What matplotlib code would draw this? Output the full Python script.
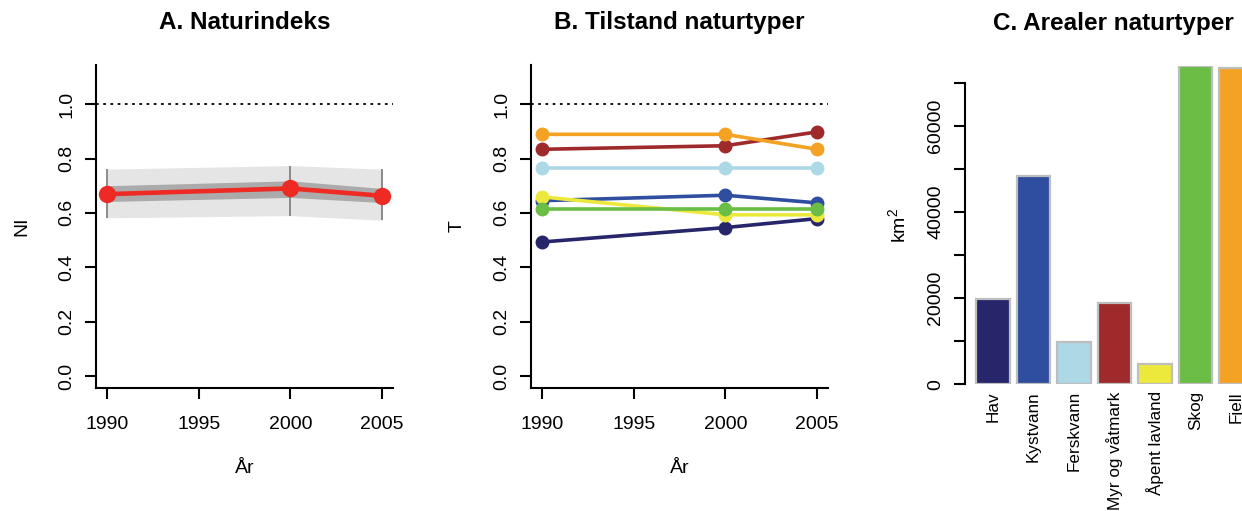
import matplotlib
matplotlib.use("Agg")
from matplotlib import pyplot as plt

plt.rcParams["font.family"] = ["Liberation Sans", "DejaVu Sans"]
plt.rcParams["mathtext.fontset"] = "custom"
plt.rcParams["mathtext.rm"] = "Liberation Sans"
plt.rcParams["mathtext.default"] = "regular"

# ---- data ----
years = [1990, 2000, 2005]
year_ticks = [1990, 1995, 2000, 2005]

ni = [0.669, 0.690, 0.663]
ni_lo50 = [0.642, 0.657, 0.638]
ni_hi50 = [0.700, 0.718, 0.690]
ni_lo95 = [0.582, 0.590, 0.573]
ni_hi95 = [0.761, 0.774, 0.761]

naturtyper = ["Hav", "Kystvann", "Ferskvann", "Myr og våtmark",
              "Åpent lavland", "Skog", "Fjell"]
farger = ["#27266B", "#2F4E9F", "#ADD8E6", "#9F2A2B",
          "#EDE93C", "#6ABD45", "#F4A223"]
tilstand = {
    "Hav": [0.493, 0.546, 0.579],
    "Kystvann": [0.645, 0.665, 0.637],
    "Ferskvann": [0.767, 0.767, 0.767],
    "Myr og våtmark": [0.834, 0.847, 0.898],
    "Åpent lavland": [0.659, 0.593, 0.593],
    "Skog": [0.616, 0.616, 0.616],
    "Fjell": [0.889, 0.889, 0.834],
}
arealer = [19700, 48300, 9800, 18800, 4650, 73850, 73300]

W, H = 1242, 511
fig = plt.figure(figsize=(W / 100, H / 100), dpi=100)


def px_axes(x0, x1, ytop, ybot):
    return fig.add_axes([x0 / W, 1 - ybot / H, (x1 - x0) / W, (ybot - ytop) / H])


def style_line_axes(ax, ylabel):
    ax.set_xlim(1989.4, 2005.6)
    ax.set_ylim(-0.044, 1.144)
    for s in ["top", "right"]:
        ax.spines[s].set_visible(False)
    for s in ["left", "bottom"]:
        ax.spines[s].set_linewidth(1.5)
    ax.set_xticks(year_ticks)
    ax.set_yticks([0.0, 0.2, 0.4, 0.6, 0.8, 1.0])
    ax.set_yticklabels(["0.0", "0.2", "0.4", "0.6", "0.8", "1.0"],
                       rotation=90, va="center")
    ax.tick_params(length=8, width=1.5, labelsize=14)
    ax.tick_params(axis="x", pad=12)
    ax.tick_params(axis="y", pad=7)
    ax.axhline(1.0, color="black", linestyle=(0, (1.5, 2.5)), linewidth=1.3)
    ax.text(0.5, -0.25, "År", transform=ax.transAxes, ha="center",
            va="center", fontsize=14)
    ax.text(-0.25, 0.5, ylabel, transform=ax.transAxes, ha="center",
            va="center", rotation=90, fontsize=14)


# ---- A. Naturindeks ----
ax_a = px_axes(96, 393, 65, 388)
style_line_axes(ax_a, "NI")
ax_a.fill_between(years, ni_lo95, ni_hi95, color="#E5E5E5", linewidth=0)
ax_a.fill_between(years, ni_lo50, ni_hi50, color="#ABABAB", linewidth=0)
ax_a.vlines(years, ni_lo95, ni_hi95, color="#7A7A7A", linewidth=1.2)
ax_a.plot(years, ni, color="#EE2A25", linewidth=3.3, marker="o",
          markersize=11.5, solid_capstyle="butt")
ax_a.set_title("A. Naturindeks", fontsize=17.5, fontweight="bold", pad=26)

# ---- B. Tilstand naturtyper ----
ax_b = px_axes(531, 828, 65, 388)
style_line_axes(ax_b, "T")
for navn, farge in zip(naturtyper, farger):
    ax_b.plot(years, tilstand[navn], color=farge, linewidth=2.6,
              marker="o", markersize=9)
ax_b.set_title("B. Tilstand naturtyper", fontsize=17.5, fontweight="bold", pad=26)

# ---- C. Arealer naturtyper ----
ax_c = px_axes(965, 1264, 66, 384.3)
pos = [0.7 + 1.2 * i for i in range(len(naturtyper))]
ax_c.bar(pos, arealer, width=1.0, color=farger, edgecolor="#BEBEBE",
         linewidth=1.6)
ax_c.set_xlim(-0.128, 8.728)
ax_c.set_ylim(0, max(arealer))
for s in ["top", "right", "bottom"]:
    ax_c.spines[s].set_visible(False)
ax_c.spines["left"].set_linewidth(1.5)
ax_c.spines["left"].set_bounds(0, 70000)
ax_c.set_yticks(range(0, 70001, 10000))
ax_c.set_yticklabels([str(v) if v % 20000 == 0 else "" for v in range(0, 70001, 10000)],
                     rotation=90, va="center")
ax_c.tick_params(axis="y", length=8, width=1.5, labelsize=14, pad=7)
ax_c.set_xticks(pos)
ax_c.set_xticklabels(naturtyper, rotation=90, fontsize=12.3)
ax_c.tick_params(axis="x", length=0, pad=5)
ax_c.text(-0.225, 0.5, "km$^2$", transform=ax_c.transAxes, ha="center",
          va="center", rotation=90, fontsize=14)
ax_c.set_title("C. Arealer naturtyper", fontsize=17.5, fontweight="bold",
               pad=26, x=(1113 - 965) / 299)

fig.savefig("out.png", dpi=100)
